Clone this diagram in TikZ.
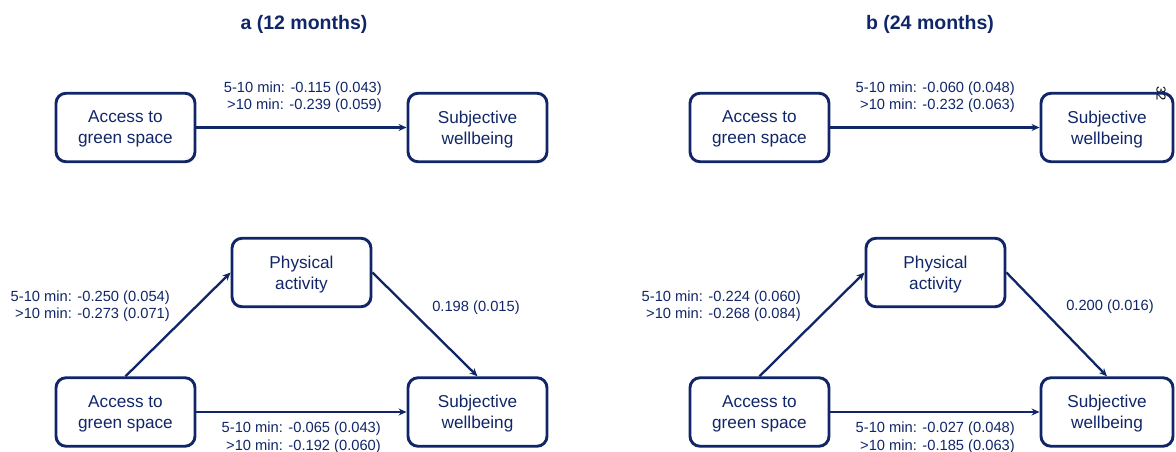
\documentclass[tikz,border=0pt]{standalone}
\usepackage{fontspec}
\setmainfont{Liberation Sans}
\usetikzlibrary{arrows.meta}
\definecolor{navy}{RGB}{16,38,104}
\begin{document}
\begin{tikzpicture}[x=1pt,y=-1pt,
  box/.style={draw=navy,line width=2.9pt,rounded corners=10pt,minimum width=139pt,minimum height=68.5pt,
    align=center,text=navy,font=\fontsize{17.2}{21}\selectfont,inner sep=0pt,text depth=-2.4pt},
  lab/.style={text=navy,font=\fontsize{14.7}{17.5}\selectfont,inner sep=0pt},
  conn/.style={draw=navy,line width=2.3pt,-{Stealth[length=8pt,width=7pt]}},
  ttl/.style={text=navy,font=\fontsize{19.5}{22}\selectfont\bfseries,inner sep=0pt}]
\useasboundingbox (0,0) rectangle (1176,452);
% titles
\node[ttl] (ta) at (304,24) {a (12 months)};
\node[ttl] (tb) at (930,24) {b (24 months)};
\node[font=\fontsize{13}{13}\selectfont,rotate=-90,inner sep=0pt] (pg) at (1161,94) {32};
% ---- panel a ----
\node[box] (a1acc) at (125.5,127.5) {Access to\\green space};
\node[box] (a1sw) at (477.5,127.5) {Subjective\\wellbeing};
\draw[conn] (a1acc) -- (a1sw);
\node[lab,align=right,anchor=east] (a1lab) at (382,97) {5-10 min: -0.115 (0.043)\\>10 min: -0.239 (0.059)};

\node[box] (a2pa) at (301.5,272.5) {Physical\\activity};
\node[box] (a2acc) at (125.5,412) {Access to\\green space};
\node[box] (a2sw) at (477.5,412) {Subjective\\wellbeing};
\draw[conn] (a2acc.north) -- (a2pa.west);
\draw[conn] (a2pa.east) -- (a2sw.north);
\draw[conn] (a2acc) -- (a2sw);
\node[lab,align=right,anchor=east] (a2lab1) at (170,306) {5-10 min: -0.250 (0.054)\\>10 min: -0.273 (0.071)};
\node[lab] (a2lab2) at (476,308) {0.198 (0.015)};
\node[lab,align=right,anchor=east] (a2lab3) at (381,437.5) {5-10 min: -0.065 (0.043)\\>10 min: -0.192 (0.060)};
% ---- panel b ----
\node[box] (b1acc) at (759.5,127.5) {Access to\\green space};
\node[box,minimum width=132pt] (b1sw) at (1107,127.5) {Subjective\\wellbeing};
\draw[conn] (b1acc) -- (b1sw);
\node[lab,align=right,anchor=east] (b1lab) at (1015,97) {5-10 min: -0.060 (0.048)\\>10 min: -0.232 (0.063)};

\node[box] (b2pa) at (935.5,272.5) {Physical\\activity};
\node[box] (b2acc) at (759.5,412) {Access to\\green space};
\node[box,minimum width=132pt] (b2sw) at (1107,412) {Subjective\\wellbeing};
\draw[conn] (b2acc.north) -- (b2pa.west);
\draw[conn] (b2pa.east) -- (b2sw.north);
\draw[conn] (b2acc) -- (b2sw);
\node[lab,align=right,anchor=east] (b2lab1) at (801,306) {5-10 min: -0.224 (0.060)\\>10 min: -0.268 (0.084)};
\node[lab] (b2lab2) at (1110,307) {0.200 (0.016)};
\node[lab,align=right,anchor=east] (b2lab3) at (1015,437.5) {5-10 min: -0.027 (0.048)\\>10 min: -0.185 (0.063)};
\end{tikzpicture}
\end{document}
